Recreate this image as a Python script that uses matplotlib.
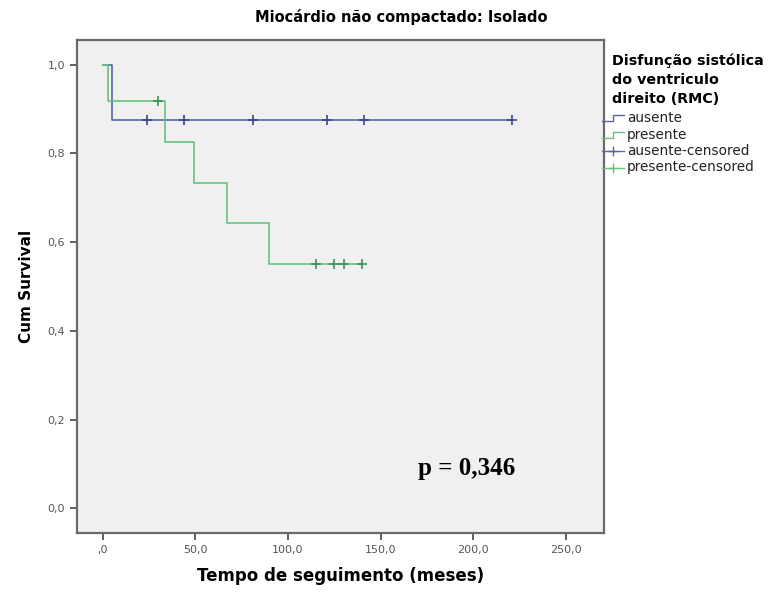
import matplotlib
matplotlib.use("Agg")
import matplotlib.pyplot as plt
from matplotlib.lines import Line2D
import numpy as np

plt.rcParams['font.family'] = ['DejaVu Sans']

# Kaplan-Meier steps per group
ausente_t = [0, 5, 221]
ausente_s = [1.0, 0.875, 0.875]
ausente_cens_t = [24, 44, 81, 121, 141, 221]

presente_t = [0, 3, 33.5, 49, 67, 90, 140]
presente_s = [1.0, 0.917, 0.825, 0.733, 0.642, 0.55, 0.55]
presente_cens_t = [30, 115, 125, 130, 140]

x_ticks = [0, 50, 100, 150, 200, 250]
x_ticklabels = [',0', '50,0', '100,0', '150,0', '200,0', '250,0']
y_ticks = [0.0, 0.2, 0.4, 0.6, 0.8, 1.0]
y_ticklabels = ['0,0', '0,2', '0,4', '0,6', '0,8', '1,0']

chart_title = 'Miocárdio não compactado: Isolado'
legend_title = 'Disfunção sistólica\ndo ventriculo\ndireito (RMC)'
legend_labels = ['ausente', 'presente', 'ausente-censored', 'presente-censored']

blue = '#5b64ad'
green = '#62c47e'
blue_dark = '#3d4690'
green_dark = '#3f8f57'

W, H = 769, 593
fig = plt.figure(figsize=(W / 100, H / 100), dpi=100)
ax = fig.add_axes([0.100, 0.101, 0.685, 0.832])
ax.set_facecolor('#f0f0f0')


def level_at(ts, ss, t):
    idx = np.searchsorted(ts, t, side='right') - 1
    return ss[idx]


ax.step(ausente_t, ausente_s, where='post', color=blue, lw=1.2)
ax.step(presente_t, presente_s, where='post', color=green, lw=1.2)
ax.plot(ausente_cens_t, [level_at(ausente_t, ausente_s, t) for t in ausente_cens_t],
        ls='none', marker='+', ms=7, mew=1.2, color=blue_dark)
ax.plot(presente_cens_t, [level_at(presente_t, presente_s, t) for t in presente_cens_t],
        ls='none', marker='+', ms=7, mew=1.2, color=green_dark)

ax.set_xlim(-14, 270.5)
ax.set_ylim(-0.056, 1.056)
ax.set_xticks(x_ticks)
ax.set_xticklabels(x_ticklabels)
ax.set_yticks(y_ticks)
ax.set_yticklabels(y_ticklabels)
ax.tick_params(axis='both', labelsize=8, labelcolor='#555555', color='#444444',
               length=5, width=1.2)
for s in ax.spines.values():
    s.set_color('#6a6a6a')
    s.set_linewidth(1.6)

ax.set_xlabel('Tempo de seguimento (meses)', fontsize=12, fontweight='bold', labelpad=9)
ax.set_ylabel('Cum Survival', fontsize=11, fontweight='bold', labelpad=10)

ax.text(170, 0.09, 'p = 0,346', family=['Liberation Serif', 'DejaVu Serif'],
        fontsize=18, fontweight='bold', ha='left', va='center')


def fx(px):
    return px / W


def fy(py):
    return 1 - py / H


fig.text(fx(401), fy(17), chart_title, fontsize=10.5, fontweight='bold',
         ha='center', va='center')

# Legend to the right of the plot
fig.text(fx(612), fy(54), legend_title, fontsize=10.3, fontweight='bold',
         ha='left', va='top', linespacing=1.42)

entry_y = [118, 134.5, 151, 167.5]
entry_colors = [blue, green, blue, green]
for i, (lab, c, y) in enumerate(zip(legend_labels, entry_colors, entry_y)):
    if i < 2:
        xs = [fx(602), fx(613), fx(613), fx(624)]
        ys = [fy(y + 3), fy(y + 3), fy(y - 3), fy(y - 3)]
        fig.add_artist(Line2D(xs, ys, color=c, lw=1.0, transform=fig.transFigure))
    else:
        fig.add_artist(Line2D([fx(602), fx(624)], [fy(y), fy(y)], color=c, lw=1.0,
                              transform=fig.transFigure))
        fig.add_artist(Line2D([fx(613)], [fy(y)], color=c, marker='+', ms=7, mew=1.0,
                              transform=fig.transFigure))
    fig.text(fx(627), fy(y), lab, fontsize=9.8, color='#222222', ha='left', va='center')

fig.savefig('out.png', dpi=100)
